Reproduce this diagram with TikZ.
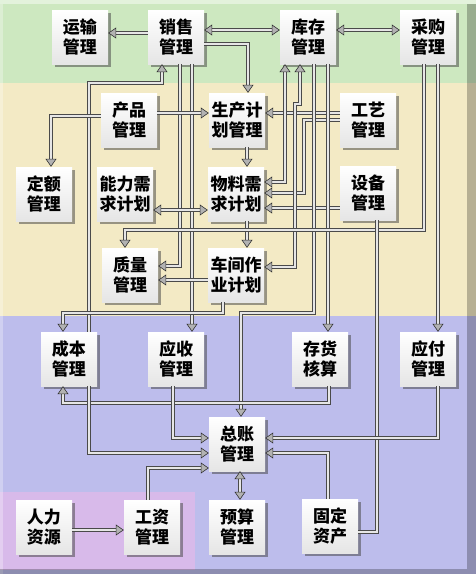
\documentclass[tikz,border=0pt]{standalone}
\usepackage{fontspec}
\newfontfamily\cjk{Noto Sans CJK SC}
\usetikzlibrary{arrows.meta,shadows}

\definecolor{bandgreen}{HTML}{CDE8C0}
\definecolor{bandtan}{HTML}{F3EAC5}
\definecolor{bandblue}{HTML}{BDBDEC}
\definecolor{bandpink}{HTML}{D8BAEA}
\definecolor{pipedark}{HTML}{4A4A4A}
\definecolor{pipelight}{HTML}{E6E6E6}

\begin{document}
\begin{tikzpicture}[x=1pt, y=-1pt,
  module/.style={top color=white, bottom color=gray!20, minimum width=56pt, minimum height=54pt, inner sep=0pt, align=center,
    font=\cjk\bfseries\fontsize{17}{20}\selectfont,
    drop shadow={shadow xshift=3pt, shadow yshift=-3pt, fill=gray!60!black, opacity=0.55}},
  pipe/.style={draw=pipedark, line width=1.1pt, double=pipelight, double distance=1.5pt},
  >={Triangle[width=11pt,length=8pt,fill=gray!60,color=gray!40!black,line width=0.6pt]}
]
\useasboundingbox (0,0) rectangle (476,574);
% bands
\fill[bandgreen] (0,0) rectangle (476,83);
\fill[bandtan] (0,83) rectangle (476,316);
\fill[bandblue] (0,316) rectangle (476,574);
\fill[bandpink] (0,492) rectangle (195,570);
\fill[white,opacity=0.45] (0,0) rectangle (476,4);
\fill[white,opacity=0.3] (0,4) rectangle (3,574);
\fill[black,opacity=0.25] (467,4) rectangle (476,574);
\fill[black,opacity=0.25] (0,569) rectangle (467,574);

% modules
\node[module] (yunshu) at (80,37) {运输\\管理};
\node[module] (xiaoshou) at (176,37) {销售\\管理};
\node[module] (kucun) at (308,37) {库存\\管理};
\node[module] (caigou) at (428,37) {采购\\管理};
\node[module] (chanpin) at (129,120) {产品\\管理};
\node[module] (shengchan) at (237,120) {生产计\\划管理};
\node[module] (gongyi) at (368,120) {工艺\\管理};
\node[module] (deding) at (44,194) {定额\\管理};
\node[module] (nengli) at (125,194) {能力需\\求计划};
\node[module] (wuliao) at (236,194) {物料需\\求计划};
\node[module] (shebei) at (368,193) {设备\\管理};
\node[module] (zhiliang) at (130,275) {质量\\管理};
\node[module] (chejian) at (236,275) {车间作\\业计划};
\node[module] (chengben) at (69,359) {成本\\管理};
\node[module] (yingshou) at (176,359) {应收\\管理};
\node[module] (cunhuo) at (320,359) {存货\\核算};
\node[module] (yingfu) at (428,359) {应付\\管理};
\node[module] (zongzhang) at (237,444) {总账\\管理};
\node[module] (renli) at (44,527) {人力\\资源};
\node[module] (gongzi) at (152,527) {工资\\管理};
\node[module] (yusuan) at (237,527) {预算\\管理};
\node[module] (guding) at (330,526) {固定\\资产};

% top row
\draw[pipe,->] (xiaoshou.west |- 0,33) -- (yunshu.east |- 0,33);
\draw[pipe,<->] (xiaoshou.east |- 0,30) -- (kucun.west |- 0,30);
\draw[pipe,->] (xiaoshou.east |- 0,44) -| (shengchan.north -| 248,0);
\draw[pipe,<->] (kucun.east |- 0,30) -- (caigou.west |- 0,30);
\draw[pipe,->] (chengben.north -| 89,0) |- (162,83) -- (xiaoshou.south -| 162,0);
\draw[pipe,->] (xiaoshou.south -| 180,0) |- (zhiliang.east |- 0,266);
\draw[pipe,->] (xiaoshou.south -| 192,0) -- (yingshou.north -| 192,0);

% planning
\draw[pipe,->] (chanpin.west |- 0,116) -| (deding.north -| 51,0);
\draw[pipe,->] (chanpin.east |- 0,113) -- (shengchan.west |- 0,113);
\draw[pipe,->] (gongyi.west |- 0,113) -- (shengchan.east |- 0,113);
\draw[pipe,->] (gongyi.west |- 0,120) -| (304,193) -- (wuliao.east |- 0,193);
\draw[pipe,->] (shengchan.south -| 247,0) -- (wuliao.north -| 247,0);
\draw[pipe,->] (wuliao.south -| 247,0) -- (chejian.north -| 247,0);
\draw[pipe,<->] (nengli.east |- 0,210) -- (wuliao.west |- 0,210);
\draw[pipe,->] (shebei.west |- 0,208) -- (wuliao.east |- 0,208);
\draw[pipe,<->] (kucun.south -| 285,0) |- (wuliao.east |- 0,182);
\draw[pipe,<->] (kucun.south -| 300,0) -- (300,104) -- (295,104) |- (chejian.east |- 0,267);
\draw[pipe,->] (kucun.south -| 314,0) |- (241,313) -- (zongzhang.north -| 241,0);
\draw[pipe,->] (kucun.south -| 328,0) -- (cunhuo.north -| 328,0);
\draw[pipe,->] (caigou.south -| 424,0) |- (125,230) -- (zhiliang.north -| 125,0);
\draw[pipe,->] (caigou.south -| 438,0) -- (yingfu.north -| 438,0);
\draw[pipe] (shebei.south -| 377,0) |- (guding.east |- 0,532);
\draw[pipe,->] (chejian.west |- 0,280) -- (zhiliang.east |- 0,280);
\draw[pipe,->] (chejian.south -| 223,0) |- (63,313) -- (chengben.north -| 63,0);

% accounting
\draw[pipe,->] (cunhuo.south -| 329,0) |- (63,403) -- (chengben.south -| 63,0);
\draw[pipe,->] (chengben.south -| 89,0) |- (zongzhang.west |- 0,453);
\draw[pipe,->] (yingshou.south -| 173,0) |- (zongzhang.west |- 0,438);
\draw[pipe,->] (gongzi.north -| 148,0) |- (zongzhang.west |- 0,468);
\draw[pipe,->] (yingfu.south -| 438,0) |- (zongzhang.east |- 0,438);
\draw[pipe,->] (guding.north -| 328,0) |- (zongzhang.east |- 0,453);
\draw[pipe,<->] (zongzhang.south -| 240,0) -- (yusuan.north -| 240,0);
\draw[pipe,->] (renli.east |- 0,530) -- (gongzi.west |- 0,530);
\end{tikzpicture}
\end{document}
